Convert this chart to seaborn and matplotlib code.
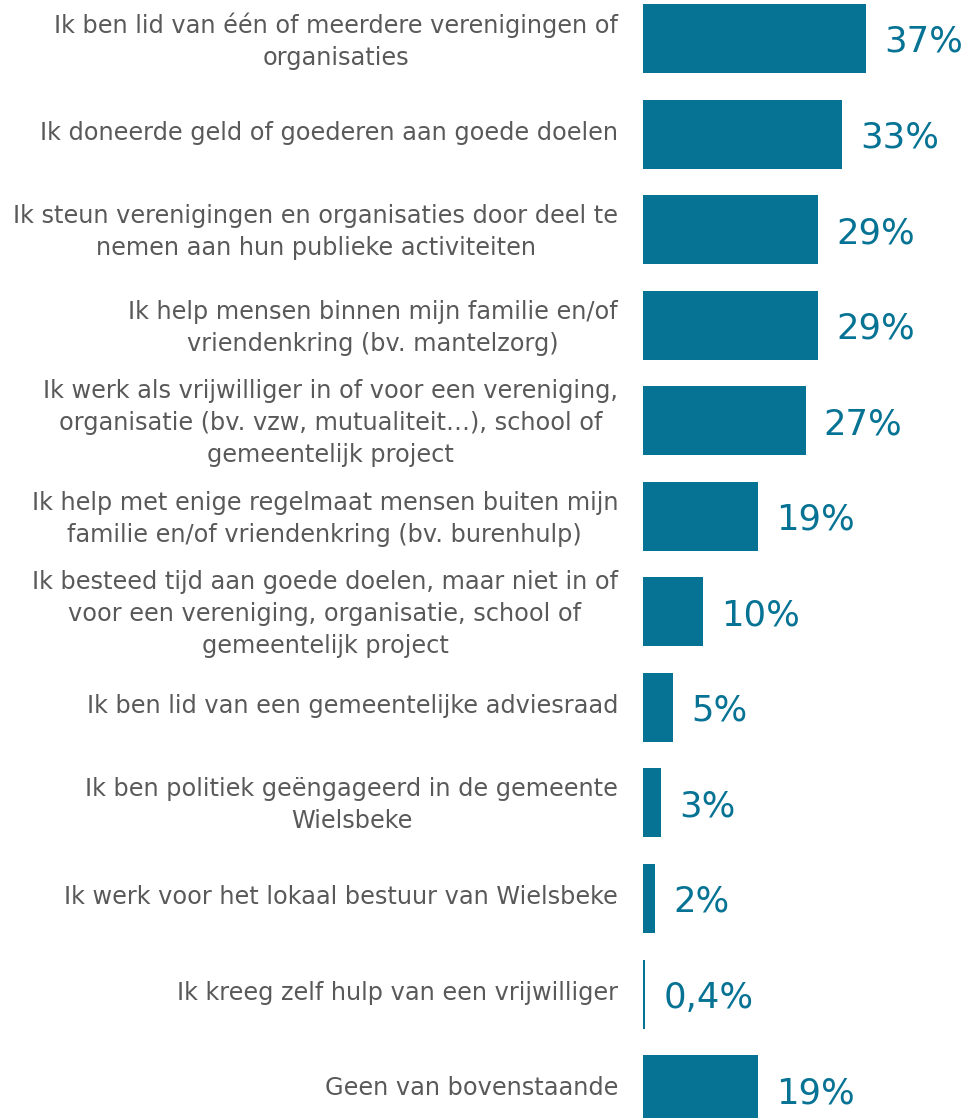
import matplotlib
matplotlib.use('Agg')
import matplotlib.pyplot as plt
import matplotlib.transforms as mtransforms
import seaborn as sns
import pandas as pd

# Data
categories = [
    "Ik ben lid van één of meerdere verenigingen of\norganisaties",
    "Ik doneerde geld of goederen aan goede doelen",
    "Ik steun verenigingen en organisaties door deel te\nnemen aan hun publieke activiteiten",
    "Ik help mensen binnen mijn familie en/of\nvriendenkring (bv. mantelzorg)",
    "Ik werk als vrijwilliger in of voor een vereniging,\norganisatie (bv. vzw, mutualiteit…), school of\ngemeentelijk project",
    "Ik help met enige regelmaat mensen buiten mijn\nfamilie en/of vriendenkring (bv. burenhulp)",
    "Ik besteed tijd aan goede doelen, maar niet in of\nvoor een vereniging, organisatie, school of\ngemeentelijk project",
    "Ik ben lid van een gemeentelijke adviesraad",
    "Ik ben politiek geëngageerd in de gemeente\nWielsbeke",
    "Ik werk voor het lokaal bestuur van Wielsbeke",
    "Ik kreeg zelf hulp van een vrijwilliger",
    "Geen van bovenstaande",
]
values = [37, 33, 29, 29, 27, 19, 10, 5, 3, 2, 0.4, 19]
value_labels = ["37%", "33%", "29%", "29%", "27%", "19%", "10%", "5%", "3%", "2%", "0,4%", "19%"]

BAR_COLOR = '#067394'
TEXT_GREY = '#595959'

df = pd.DataFrame({'categorie': categories, 'pct': values})

sns.set_style('white')
plt.rcParams['font.family'] = ['DejaVu Sans']

fig = plt.figure(figsize=(9.69, 11.18), dpi=100)
ax = fig.add_axes([643 / 969, -0.01735, 1 - 643 / 969, 1.0257])

sns.barplot(data=df, y='categorie', x='pct', color=BAR_COLOR, orient='h',
            width=0.722, saturation=1, linewidth=0, ax=ax)

ax.set_xlim(0, 54.06)
ax.set_ylim(len(categories) - 0.5, -0.5)
ax.set_xlabel('')
ax.set_ylabel('')
ax.set_xticks([])
ax.tick_params(axis='y', length=0, pad=18)
ax.set_yticks(range(len(categories)))
ax.set_yticklabels(categories, fontsize=17.3, color=TEXT_GREY,
                   multialignment='center', linespacing=1.42)
# schuif labels een paar pixels omhoog
shift = mtransforms.ScaledTranslation(0, 4 / 100, fig.dpi_scale_trans)
for lbl in ax.get_yticklabels():
    lbl.set_transform(lbl.get_transform() + shift)
sns.despine(ax=ax, left=True, bottom=True)

# Value labels
for i, (v, lab) in enumerate(zip(values, value_labels)):
    ax.annotate(lab, xy=(v, i), xytext=(13, 0), textcoords='offset points',
                va='center_baseline', ha='left', fontsize=25.5,
                color=BAR_COLOR, family='DejaVu Sans')

plt.savefig('out.png', dpi=100)
plt.close()
